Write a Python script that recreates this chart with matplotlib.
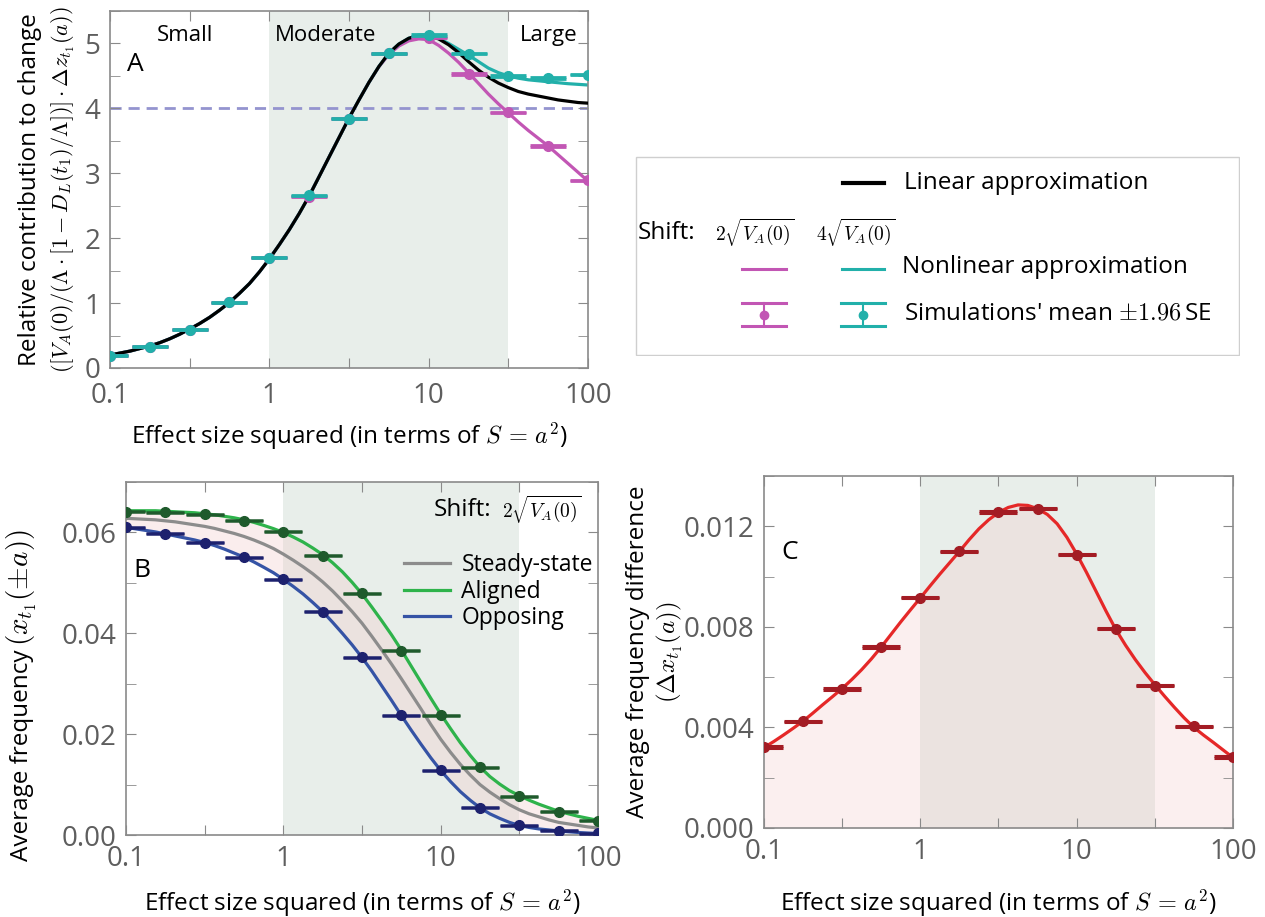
import matplotlib
matplotlib.use("Agg")
import matplotlib.pyplot as plt
from matplotlib.ticker import FixedLocator, NullLocator, MultipleLocator, FixedFormatter
from matplotlib.patches import Rectangle

plt.rcParams['font.family'] = ['Open Sans', 'DejaVu Sans']
plt.rcParams['mathtext.fontset'] = 'cm'

# effect sizes S = a^2 (simulated points, quarter decades)
S_pts = [0.1, 0.178, 0.316, 0.562, 1.0, 1.78, 3.16, 5.62, 10.0, 17.8, 31.6, 56.2, 100.0]
S_line = [0.1, 0.1155, 0.1334, 0.154, 0.1778, 0.2054, 0.2371, 0.2738, 0.3162, 0.3652,
          0.4217, 0.487, 0.5623, 0.6494, 0.7499, 0.866,
          1.0, 1.155, 1.334, 1.54, 1.778, 2.054, 2.371, 2.738, 3.162, 3.652,
          4.217, 4.87, 5.623, 6.494, 7.499, 8.66,
          10.0, 11.55, 13.34, 15.4, 17.78, 20.54, 23.71, 27.38, 31.62, 36.52,
          42.17, 48.7, 56.23, 64.94, 74.99, 86.6, 100.0]
moderate = (1.0, 31.6)

# panel A
linear_A = [0.20, 0.23, 0.26, 0.30, 0.34, 0.39, 0.45, 0.52, 0.60, 0.685, 0.78, 0.89, 1.01,
            1.15, 1.30, 1.48, 1.68, 1.90, 2.13, 2.38, 2.65, 2.95, 3.25, 3.55, 3.85, 4.13,
            4.40, 4.645, 4.85, 4.99, 5.08, 5.12, 5.12, 5.07, 4.98, 4.86, 4.72, 4.59, 4.48,
            4.39, 4.32, 4.26, 4.22, 4.19, 4.16, 4.13, 4.11, 4.09, 4.08]
nonlin_4 = [0.20, 0.23, 0.26, 0.30, 0.34, 0.39, 0.45, 0.52, 0.60, 0.685, 0.78, 0.89, 1.01,
            1.15, 1.30, 1.48, 1.68, 1.90, 2.13, 2.38, 2.65, 2.95, 3.25, 3.55, 3.85, 4.13,
            4.40, 4.645, 4.85, 4.99, 5.08, 5.13, 5.13, 5.08, 5.00, 4.91, 4.82, 4.72, 4.62,
            4.55, 4.50, 4.465, 4.44, 4.425, 4.41, 4.395, 4.38, 4.37, 4.36]
nonlin_2 = [0.20, 0.23, 0.26, 0.30, 0.34, 0.39, 0.45, 0.52, 0.60, 0.685, 0.78, 0.89, 1.01,
            1.15, 1.30, 1.48, 1.68, 1.90, 2.13, 2.38, 2.65, 2.95, 3.25, 3.55, 3.85, 4.13,
            4.40, 4.64, 4.83, 4.96, 5.04, 5.07, 5.06, 4.97, 4.85, 4.71, 4.55, 4.385, 4.22,
            4.07, 3.93, 3.79, 3.66, 3.54, 3.42, 3.285, 3.15, 3.015, 2.88]
sim_4 = [0.19, 0.33, 0.59, 1.01, 1.70, 2.66, 3.84, 4.85, 5.13, 4.84, 4.50, 4.47, 4.52]
sim_2 = [0.19, 0.33, 0.59, 1.01, 1.70, 2.64, 3.84, 4.85, 5.09, 4.53, 3.94, 3.42, 2.89]
se_A = [0.01] * 13
ref_level = 4.0

# panel B
steady = [0.0628, 0.0627, 0.0626, 0.0625, 0.0623, 0.0621, 0.0618, 0.0615, 0.0612, 0.0608,
          0.0603, 0.0598, 0.0592, 0.0585, 0.0577, 0.0568, 0.0557, 0.0545, 0.0532, 0.0518,
          0.0502, 0.0484, 0.0464, 0.0443, 0.0420, 0.0394, 0.0367, 0.0339, 0.0310, 0.0280,
          0.0250, 0.0219, 0.0190, 0.0164, 0.0140, 0.0119, 0.0100, 0.0085, 0.0072, 0.0060,
          0.0050, 0.0042, 0.0036, 0.0030, 0.0025, 0.0022, 0.0019, 0.0016, 0.0014]
aligned = [0.0643, 0.0643, 0.0643, 0.0643, 0.0642, 0.0641, 0.0640, 0.0639, 0.0637, 0.0635,
           0.0632, 0.0629, 0.0625, 0.0620, 0.0614, 0.06075, 0.0600, 0.0591, 0.0581, 0.0569,
           0.0556, 0.0540, 0.0522, 0.0501, 0.0478, 0.0452, 0.0425, 0.0397, 0.0367, 0.0335,
           0.0303, 0.0271, 0.0240, 0.0211, 0.0183, 0.0158, 0.0135, 0.0116, 0.0101, 0.0088,
           0.0078, 0.0069, 0.0061, 0.0054, 0.0047, 0.0042, 0.0037, 0.0033, 0.0029]
opposing = [0.0610, 0.0607, 0.0604, 0.0601, 0.0597, 0.0593, 0.0589, 0.0585, 0.0580, 0.0574,
            0.0567, 0.0559, 0.0551, 0.05415, 0.0531, 0.0520, 0.0507, 0.0493, 0.0478, 0.0461,
            0.0443, 0.0422, 0.0400, 0.0377, 0.0352, 0.0325, 0.0296, 0.0267, 0.0237, 0.0208,
            0.0180, 0.0153, 0.0128, 0.0106, 0.0086, 0.0069, 0.0054, 0.0042, 0.0033, 0.0025,
            0.0019, 0.0015, 0.0012, 0.0010, 0.0008, 0.00064, 0.0005, 0.00039, 0.0003]
sim_aligned = [0.0641, 0.0640, 0.0636, 0.0623, 0.0601, 0.0554, 0.0479, 0.0365, 0.0237,
               0.0134, 0.0077, 0.0046, 0.0028]
sim_opposing = [0.0610, 0.0597, 0.0580, 0.0551, 0.0507, 0.0443, 0.0352, 0.0237, 0.0128,
                0.0054, 0.0019, 0.0008, 0.0003]
se_B = [0.0001] * 13

# panel C
diff_line = [0.00320, 0.00344, 0.00370, 0.00397, 0.00425, 0.00457, 0.00490, 0.00522,
             0.00555, 0.00591, 0.00630, 0.00673, 0.00720, 0.00770, 0.00820, 0.00868,
             0.00915, 0.00963, 0.01010, 0.01055, 0.01100, 0.01147, 0.01190, 0.01226,
             0.01255, 0.01275, 0.01285, 0.01283, 0.01270, 0.01247, 0.01210, 0.01156,
             0.01090, 0.01017, 0.00940, 0.00863, 0.00790, 0.00727, 0.00670, 0.00618,
             0.00570, 0.00524, 0.00480, 0.00438, 0.00400, 0.00369, 0.00340, 0.00310,
             0.00280]
sim_diff = [0.00322, 0.00424, 0.00553, 0.0072, 0.00916, 0.0110, 0.01257, 0.0127, 0.01087,
            0.00793, 0.00566, 0.00404, 0.00282]
se_C = [0.00003] * 13

xticks = [0.1, 0.316, 1, 3.16, 10, 31.6, 100]
xticklabels = ['0.1', '', '1', '', '10', '', '100']
xlabel = r'Effect size squared (in terms of $S\,=\,a^2$)'

TICK_COL = '#5e5e5e'
SPINE_COL = '#8a8a8a'
SHADE = '#e8eeea'
LAB = 17.5
LW = 2.3


def style_axes(ax, ymaj, ymin, yfmt):
    ax.set_xscale('log')
    ax.set_xlim(0.1, 100)
    ax.xaxis.set_major_locator(FixedLocator(xticks))
    ax.xaxis.set_major_formatter(FixedFormatter(xticklabels))
    ax.xaxis.set_minor_locator(NullLocator())
    ax.yaxis.set_major_locator(MultipleLocator(ymaj))
    ax.yaxis.set_minor_locator(MultipleLocator(ymin))
    ax.yaxis.set_major_formatter(plt.FuncFormatter(lambda v, p: yfmt.format(v)))
    ax.tick_params(which='both', direction='in', top=True, right=True, length=7,
                   color=SPINE_COL, labelcolor=TICK_COL, labelsize=20, pad=7)
    for sp in ax.spines.values():
        sp.set_color(SPINE_COL)
        sp.set_linewidth(1.2)
    ax.axvspan(*moderate, color=SHADE, zorder=0, lw=0)


fig = plt.figure(figsize=(12.65, 9.17), dpi=100)

# ---------------- A
axA = fig.add_axes([110 / 1265, 1 - 368 / 917, 478 / 1265, 357 / 917])
style_axes(axA, 1, 0.5, '{:g}')
axA.tick_params(axis='x', pad=10)
axA.set_ylim(0, 5.5)
magenta = '#c256b4'
cyan = '#22b0aa'
axA.axhline(ref_level, color='#9494cf', ls='--', lw=2, dashes=(4, 2.5), zorder=1)
axA.plot(S_line, nonlin_2, color=magenta, lw=LW, zorder=2)
axA.plot(S_line, nonlin_4, color=cyan, lw=LW, zorder=2)
axA.plot(S_line, linear_A, color='black', lw=LW, zorder=3)
axA.errorbar(S_pts, sim_2, yerr=se_A, fmt='o', color=magenta, ms=7, capsize=13,
             capthick=2.0, elinewidth=1.5, zorder=4)
axA.errorbar(S_pts, sim_4, yerr=se_A, fmt='o', color=cyan, ms=7, capsize=13,
             capthick=2.0, elinewidth=1.5, zorder=5)
for xf, word in [(0.157, 'Small'), (0.45, 'Moderate'), (0.918, 'Large')]:
    axA.text(xf, 0.93, word, transform=axA.transAxes, ha='center', va='center', fontsize=16)
axA.text(0.052, 0.85, 'A', transform=axA.transAxes, ha='center', va='center', fontsize=19)
axA.text(-0.167, 0.5, 'Relative contribution to change', transform=axA.transAxes,
         rotation=90, ha='center', va='center', fontsize=LAB)
axA.text(-0.098, 0.5, r'$([V_A(0)/(\Lambda\cdot[1-D_L(t_1)/\Lambda])]\cdot\Delta z_{t_1}(a))$',
         transform=axA.transAxes, rotation=90, ha='center', va='center', fontsize=16)
axA.text(0.5, -0.19, xlabel, transform=axA.transAxes, ha='center', va='center', fontsize=LAB)

# ---------------- legend box for A
axL = fig.add_axes([635 / 1265, 1 - 356 / 917, 605 / 1265, 200 / 917])
axL.set_xlim(0, 605)
axL.set_ylim(200, 0)
axL.axis('off')
axL.add_patch(Rectangle((1, 1), 603, 198, fill=False, ec='#cfcfcf', lw=1))
axL.plot([208, 249], [27, 27], color='black', lw=3)
axL.text(269, 27, 'Linear approximation', va='center', fontsize=LAB)
axL.text(3, 77, 'Shift:', va='center', fontsize=LAB)
axL.text(80, 77, r'$2\sqrt{V_A(0)}$', va='center', fontsize=14)
axL.text(181, 77, r'$4\sqrt{V_A(0)}$', va='center', fontsize=14)
axL.plot([107, 151], [113, 113], color=magenta, lw=2.2)
axL.plot([207, 249], [113, 113], color=cyan, lw=2.2)
axL.text(267, 111, 'Nonlinear approximation', va='center', fontsize=LAB)
for xc, col in [(129, magenta), (228, cyan)]:
    axL.plot([xc - 22, xc + 22], [147, 147], color=col, lw=2.2)
    axL.plot([xc - 22, xc + 22], [170, 170], color=col, lw=2.2)
    axL.plot([xc, xc], [147, 170], color=col, lw=1.5)
    axL.plot([xc], [158.5], 'o', color=col, ms=6)
axL.text(269, 158, r"Simulations' mean $\pm1.96\,$SE", va='center', fontsize=LAB)

# ---------------- B
axB = fig.add_axes([126 / 1265, 1 - 835 / 917, 472 / 1265, 353 / 917])
style_axes(axB, 0.02, 0.01, '{:.2f}')
axB.set_ylim(0, 0.07)
green = '#2eb34b'
blue = '#3553a5'
axB.fill_between(S_line, opposing, aligned, color='#f2cccc', alpha=0.35, lw=0, zorder=1)
axB.plot(S_line, steady, color='#8c8c8c', lw=LW, zorder=2, label='Steady-state')
axB.plot(S_line, aligned, color=green, lw=LW, zorder=2, label='Aligned')
axB.plot(S_line, opposing, color=blue, lw=LW, zorder=2, label='Opposing')
axB.errorbar(S_pts, sim_aligned, yerr=se_B, fmt='o', color='#1f5a2c', ms=7, capsize=14,
             capthick=1.8, elinewidth=1.2, zorder=4)
axB.errorbar(S_pts, sim_opposing, yerr=se_B, fmt='o', color='#1d216e', ms=7, capsize=14,
             capthick=1.8, elinewidth=1.2, zorder=4)
axB.legend(loc='upper left', bbox_to_anchor=(0.57, 0.825), frameon=False, fontsize=16.5,
           handlelength=2.0, handletextpad=0.5, labelspacing=0.12, borderaxespad=0)
axB.text(0.965, 0.92, r'$2\sqrt{V_A(0)}$', transform=axB.transAxes, ha='right',
         va='center', fontsize=14)
axB.text(0.775, 0.92, 'Shift:', transform=axB.transAxes, ha='right',
         va='center', fontsize=17.5)
axB.text(0.034, 0.75, 'B', transform=axB.transAxes, ha='center', va='center', fontsize=19)
axB.text(-0.22, 0.525, 'Average frequency', transform=axB.transAxes,
         rotation=90, ha='center', va='top', fontsize=LAB)
axB.text(-0.22, 0.535, r'$(x_{t_1}(\pm a))$', transform=axB.transAxes,
         rotation=90, ha='center', va='bottom', fontsize=21)
axB.text(0.5, -0.193, xlabel, transform=axB.transAxes, ha='center', va='center', fontsize=LAB)

# ---------------- C
axC = fig.add_axes([764 / 1265, 1 - 828 / 917, 469 / 1265, 352 / 917])
style_axes(axC, 0.004, 0.002, '{:.3f}')
axC.set_ylim(0, 0.014)
axC.fill_between(S_line, 0, diff_line, color='#f2cccc', alpha=0.3, lw=0, zorder=1)
axC.plot(S_line, diff_line, color='#e52828', lw=LW, zorder=2)
axC.errorbar(S_pts, sim_diff, yerr=se_C, fmt='o', color='#a31c24', ms=7, capsize=14,
             capthick=2.2, elinewidth=1.2, zorder=4)
axC.text(0.055, 0.784, 'C', transform=axC.transAxes, ha='center', va='center', fontsize=19)
axC.text(-0.269, 0.5, 'Average frequency difference', transform=axC.transAxes,
         rotation=90, ha='center', va='center', fontsize=LAB)
axC.text(-0.200, 0.5, r'$(\Delta x_{t_1}(a))$', transform=axC.transAxes,
         rotation=90, ha='center', va='center', fontsize=18)
axC.text(0.5, -0.213, xlabel, transform=axC.transAxes, ha='center', va='center', fontsize=LAB)

fig.savefig('out.png', dpi=100)
